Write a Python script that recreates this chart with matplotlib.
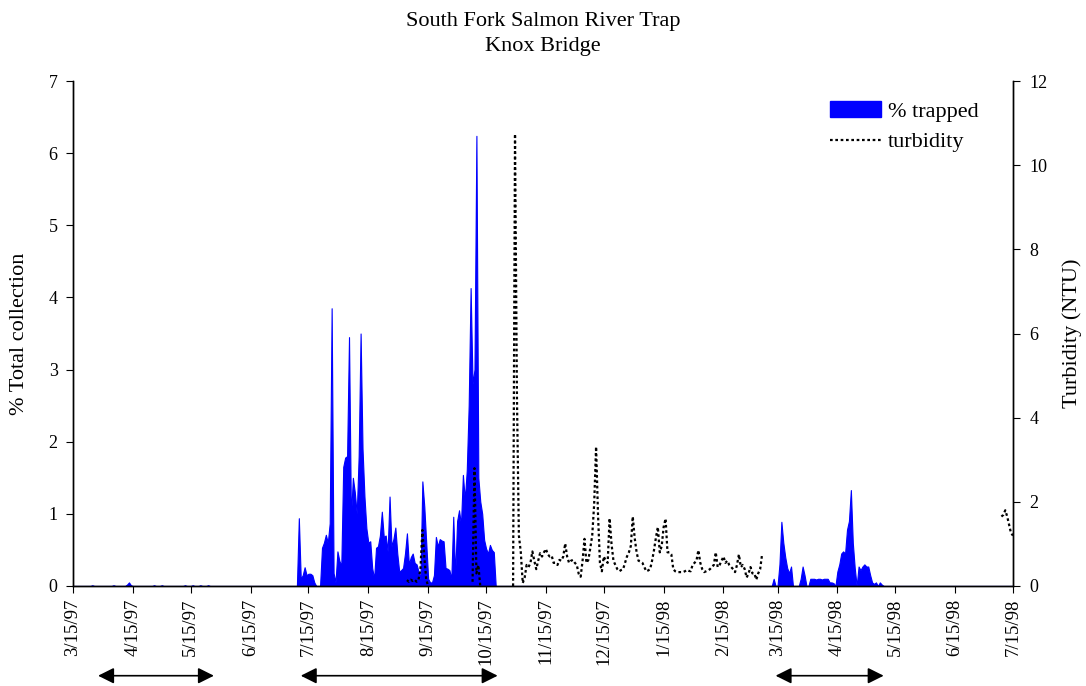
import numpy as np
import pandas as pd
import matplotlib
matplotlib.use("Agg")
import matplotlib.pyplot as plt
import matplotlib.dates as mdates
import matplotlib.transforms as mtransforms
from matplotlib.patches import Patch
from matplotlib.lines import Line2D

# -------------------------------
# data (days counted from 3/15/97)
# -------------------------------
start = pd.Timestamp("1997-03-15")
end = pd.Timestamp("1998-07-15")

trap_days = [10, 21, 28, 29, 30, 42, 46, 58, 62, 66, 70,
             117, 118, 119, 120, 121, 122, 123, 124, 125,
             129, 130, 131, 132, 133, 134, 135, 136, 137, 138, 139, 140, 141, 142, 143, 144,
             145, 146, 147, 148, 149, 150, 151, 152, 153, 154, 155, 156, 157, 158, 159, 160,
             161, 162, 163, 164, 165, 166, 167, 168, 169, 170, 171, 172, 173, 174, 175, 176,
             177, 178, 179, 180, 181, 182, 183, 184, 185, 186, 187, 188, 189, 190, 191, 192,
             193, 194, 195, 196, 197, 198, 199, 200, 201, 202, 203, 204, 205, 206, 207, 208,
             209, 210, 211, 212, 213, 214, 215, 216, 217, 218,
             363, 366, 367, 368, 369, 370, 371, 372, 377, 378, 379,
             382, 383, 384, 385, 386, 387, 388, 389, 390, 391, 392, 393, 394,
             396, 397, 398, 399, 400, 401, 402, 403, 404, 405, 407, 408, 409, 410, 411, 412,
             413, 414, 415, 416, 418, 419]
trap_pct = [0.01, 0.01, 0.02, 0.05, 0.01, 0.01, 0.01, 0.01, 0.01, 0.01, 0.01,
            0.94, 0.10, 0.15, 0.26, 0.15, 0.17, 0.17, 0.15, 0.05,
            0.53, 0.60, 0.71, 0.60, 0.87, 3.85, 0.18, 0.05, 0.48, 0.35, 0.28, 1.65, 1.78, 1.80, 3.45, 0.95,
            1.50, 1.30, 1.00, 1.80, 3.50, 1.90, 1.24, 0.80, 0.60, 0.62, 0.25, 0.10, 0.53, 0.55, 0.70, 1.03,
            0.68, 0.70, 0.48, 1.24, 0.55, 0.65, 0.81, 0.45, 0.20, 0.22, 0.25, 0.45, 0.73, 0.30, 0.40, 0.45,
            0.32, 0.30, 0.20, 0.10, 1.45, 1.10, 0.60, 0.10, 0.05, 0.05, 0.15, 0.68, 0.55, 0.65, 0.63, 0.62,
            0.25, 0.24, 0.22, 0.10, 0.96, 0.15, 0.90, 1.05, 0.85, 1.54, 1.20, 1.60, 2.50, 4.13, 2.80, 3.00,
            6.24, 1.50, 1.17, 1.00, 0.64, 0.52, 0.45, 0.57, 0.50, 0.47,
            0.10, 0.30, 0.89, 0.60, 0.40, 0.25, 0.18, 0.27, 0.10, 0.27, 0.15,
            0.10, 0.10, 0.10, 0.09, 0.10, 0.10, 0.09, 0.10, 0.10, 0.10, 0.05, 0.05, 0.04,
            0.20, 0.30, 0.45, 0.48, 0.45, 0.78, 0.90, 1.33, 0.60, 0.25, 0.27, 0.22, 0.27, 0.30, 0.27, 0.27,
            0.15, 0.05, 0.03, 0.05, 0.05, 0.02]

turb_days = [173, 174, 175, 176, 177, 178, 179, 180, 181, 182, 183, 184,
             207, 208, 209, 210, 211,
             228, 229, 230, 231, 232, 233, 234, 235, 236, 237, 238, 239, 240, 241, 242, 243,
             244, 245, 246, 247, 248, 249, 250, 251, 252, 253, 254, 255, 256, 257, 258, 259,
             260, 261, 262, 263, 264, 265, 266, 267, 268, 269, 270, 271, 272, 273, 274, 275,
             276, 277, 278, 279, 280, 281, 282, 283, 284, 285, 286, 287, 288, 289, 290, 291,
             292, 293, 294, 295, 296, 297, 298, 299, 300, 301, 302, 303, 304, 305, 306, 307,
             308, 309, 310, 311, 312, 313, 314, 315, 316, 317, 318, 319, 320, 321, 322, 323,
             324, 325, 326, 327, 328, 329, 330, 331, 332, 333, 334, 335, 336, 337, 338, 339,
             340, 341, 342, 343, 344, 345, 346, 347, 348, 349, 350, 351, 352, 353, 354, 355,
             356, 357,
             481, 482, 483, 484, 485, 486, 487]
turb_ntu = [0.14, 0.10, 0.15, 0.12, 0.15, 0.10, 0.15, 0.40, 1.33, 0.70, 0.15, 0.00,
            0.10, 2.80, 0.30, 0.50, 0.00,
            0.00, 10.74, 4.50, 1.20, 0.80, 0.07, 0.20, 0.50, 0.45, 0.55, 0.82, 0.60, 0.40, 0.60, 0.78, 0.70,
            0.80, 0.88, 0.75, 0.70, 0.72, 0.55, 0.55, 0.50, 0.62, 0.60, 0.70, 1.01, 0.70, 0.55, 0.60, 0.62,
            0.55, 0.50, 0.29, 0.22, 0.60, 1.12, 0.55, 0.62, 0.90, 1.20, 1.94, 3.31, 1.70, 0.55, 0.35, 0.70,
            0.60, 0.55, 1.61, 1.00, 0.60, 0.50, 0.40, 0.35, 0.38, 0.40, 0.55, 0.70, 0.80, 0.95, 1.65, 1.14,
            0.80, 0.60, 0.58, 0.55, 0.45, 0.35, 0.37, 0.40, 0.60, 0.85, 1.15, 1.40, 0.80, 0.95, 1.40, 1.60,
            0.80, 0.80, 0.75, 0.40, 0.35, 0.33, 0.33, 0.33, 0.33, 0.35, 0.38, 0.36, 0.35, 0.50, 0.55, 0.60,
            0.85, 0.55, 0.40, 0.33, 0.35, 0.37, 0.40, 0.45, 0.50, 0.80, 0.45, 0.50, 0.60, 0.70, 0.55, 0.60,
            0.50, 0.45, 0.40, 0.33, 0.50, 0.75, 0.45, 0.50, 0.40, 0.20, 0.30, 0.45, 0.30, 0.30, 0.15, 0.30,
            0.40, 0.75,
            1.65, 1.69, 1.80, 1.65, 1.45, 1.25, 1.20]

# trapping periods shown as arrows under the axis
arrow_starts = ["1997-03-28", "1997-07-11", "1998-03-14"]
arrow_ends = ["1997-05-27", "1997-10-21", "1998-05-09"]

# -------------------------------
# build daily series
# -------------------------------
all_days = np.arange(0, (end - start).days + 1)
trap = pd.Series(trap_pct, index=trap_days).reindex(all_days, fill_value=0.0)
turb = pd.Series(turb_ntu, index=turb_days).reindex(all_days)
dates = start + pd.to_timedelta(all_days, unit="D")

plt.rcParams['font.family'] = ['Liberation Serif', 'DejaVu Serif']

fig = plt.figure(figsize=(10.86, 6.86), dpi=100)
ax = fig.add_axes([73 / 1086, 1 - 586 / 686, 940 / 1086, 505 / 686])
ax2 = ax.twinx()

ax.fill_between(dates, trap.values, 0, color="#0000ff", lw=0.8, zorder=2)
ax2.plot(dates, turb.values, color="black", ls=(0, (1.2, 1.2)), lw=1.6, zorder=3)

ax.set_xlim(start, end)
ax.set_ylim(0, 7)
ax2.set_ylim(0, 12)
ax.set_yticks(range(0, 8))
ax2.set_yticks(range(0, 13, 2))

ax.xaxis.set_major_locator(mdates.MonthLocator(bymonthday=15))
ax.xaxis.set_major_formatter(
    plt.FuncFormatter(lambda v, p: "{d.month}/{d.day}/{d:%y}".format(d=mdates.num2date(v))))
for lbl in ax.get_xticklabels():
    lbl.set_rotation(90)

ax.tick_params(axis="x", labelsize=13.5, length=5, direction="out", pad=4)
ax.tick_params(axis="y", labelsize=13, length=5, direction="out", pad=6)
ax2.tick_params(axis="y", labelsize=13, length=5, direction="out", pad=7)
ax.set_ylabel("% Total collection", fontsize=16)
ax2.set_ylabel("Turbidity (NTU)", fontsize=16, rotation=90)
ax.yaxis.set_label_coords(-0.047, 0.5)
ax2.yaxis.set_label_coords(1.052, 0.5)
for a in (ax, ax2):
    a.spines["top"].set_visible(False)
    for s in a.spines.values():
        s.set_linewidth(1.0)

fig.suptitle("South Fork Salmon River Trap\nKnox Bridge", fontsize=16, y=0.982, linespacing=1.4)

handles = [Patch(facecolor="#0000ff", edgecolor="#0000ff"),
           Line2D([], [], color="black", ls=(0, (1.2, 1.2)), lw=1.6)]
ax2.legend(handles, ["% trapped", "turbidity"], loc="upper right", frameon=False,
           fontsize=16, handlelength=2.3, handletextpad=0.3, labelspacing=0.45,
           borderaxespad=0, borderpad=0, bbox_to_anchor=(0.963, 0.96))

# arrows below the axis
trans = mtransforms.blended_transform_factory(ax.transData, fig.transFigure)
for s, e in zip(arrow_starts, arrow_ends):
    xs = mdates.date2num(pd.Timestamp(s))
    xe = mdates.date2num(pd.Timestamp(e))
    ax.annotate("", xy=(xe, 0.015), xytext=(xs, 0.015),
                xycoords=trans, textcoords=trans, annotation_clip=False,
                arrowprops=dict(arrowstyle="<|-|>", color="black", lw=1.2,
                                mutation_scale=24, shrinkA=0, shrinkB=0))

fig.savefig("out.png", dpi=100)
